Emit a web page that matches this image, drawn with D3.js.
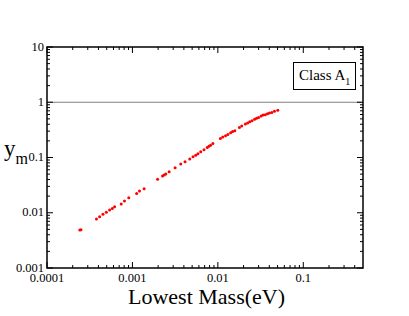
<!DOCTYPE html>
<html><head><meta charset="utf-8">
<script src="https://cdn.jsdelivr.net/npm/d3@7"></script>
<style>body{margin:0;background:#fff}svg{display:block}text{font-family:"Liberation Serif","Times New Roman",serif;fill:#000}</style>
</head><body><svg id="c" width="409" height="316"></svg>
<script>
const lowestMass = [2.42e-4,2.5e-4,3.79e-4,4.13e-4,4.52e-4,4.95e-4,5.41e-4,5.81e-4,6.18e-4,7.39e-4,8.07e-4,9.06e-4,
1.12e-3,1.21e-3,1.37e-3,1.97e-3,2.25e-3,2.35e-3,2.46e-3,2.69e-3,3.16e-3,3.68e-3,4.13e-3,4.69e-3,5.12e-3,5.51e-3,
5.85e-3,6.30e-3,6.88e-3,7.51e-3,7.85e-3,8.22e-3,8.75e-3,1.07e-2,1.14e-2,1.23e-2,1.31e-2,1.41e-2,1.49e-2,1.58e-2,
1.79e-2,1.90e-2,2.10e-2,2.23e-2,2.36e-2,2.51e-2,2.69e-2,2.84e-2,3.00e-2,3.21e-2,3.38e-2,3.59e-2,3.81e-2,4.02e-2,
4.28e-2,4.60e-2,5.03e-2];
const ym = [4.86e-3,4.9e-3,7.69e-3,8.47e-3,9.35e-3,1.02e-2,1.12e-2,1.20e-2,1.28e-2,1.44e-2,1.63e-2,1.87e-2,
2.24e-2,2.47e-2,2.71e-2,4.02e-2,4.62e-2,4.81e-2,5.01e-2,5.51e-2,6.51e-2,7.60e-2,8.36e-2,9.35e-2,0.103,0.110,
0.117,0.127,0.138,0.152,0.159,0.166,0.180,0.221,0.234,0.247,0.262,0.280,0.294,0.304,
0.350,0.370,0.402,0.422,0.443,0.461,0.494,0.515,0.531,0.561,0.585,0.592,0.622,0.636,
0.654,0.690,0.720];
const xTicks = [1e-4,1e-3,1e-2,1e-1];
const xTickLabels = ["0.0001","0.001","0.01","0.1"];
const yTicks = [1e-3,1e-2,1e-1,1,10];
const yTickLabels = ["0.001","0.01","0.1","1","10"];
const xDomain = [1e-4,0.5];
const yDomain = [1e-3,10];
const refLine = 1;

const L=47,R=363,T=47,B=268;
const svg=d3.select("#c");
const x=d3.scaleLog().domain(xDomain).range([L,R]);
const y=d3.scaleLog().domain(yDomain).range([B,T]);

function minors(dom){const out=[];for(let e=Math.floor(Math.log10(dom[0]));e<=Math.ceil(Math.log10(dom[1]));e++){for(let k=2;k<=9;k++){const v=k*Math.pow(10,e);if(v>dom[0]*1.0001&&v<dom[1]*0.9999)out.push(v);}}return out;}
const xMin=minors(xDomain), yMin=minors(yDomain);

// reference line
svg.append("line").attr("x1",L).attr("x2",R).attr("y1",y(refLine)).attr("y2",y(refLine)).attr("stroke","#808080").attr("stroke-width",1);

const g=svg.append("g").attr("stroke","#000").attr("stroke-width",1);
// bottom/top ticks
xTicks.forEach(v=>{g.append("line").attr("x1",x(v)).attr("x2",x(v)).attr("y1",B).attr("y2",B-6);g.append("line").attr("x1",x(v)).attr("x2",x(v)).attr("y1",T).attr("y2",T+6);});
xMin.forEach(v=>{g.append("line").attr("x1",x(v)).attr("x2",x(v)).attr("y1",B).attr("y2",B-3);g.append("line").attr("x1",x(v)).attr("x2",x(v)).attr("y1",T).attr("y2",T+3);});
yTicks.forEach(v=>{g.append("line").attr("y1",y(v)).attr("y2",y(v)).attr("x1",L).attr("x2",L+6);g.append("line").attr("y1",y(v)).attr("y2",y(v)).attr("x1",R).attr("x2",R-6);});
yMin.forEach(v=>{g.append("line").attr("y1",y(v)).attr("y2",y(v)).attr("x1",L).attr("x2",L+3);g.append("line").attr("y1",y(v)).attr("y2",y(v)).attr("x1",R).attr("x2",R-3);});

svg.append("rect").attr("x",L).attr("y",T).attr("width",R-L).attr("height",B-T).attr("fill","none").attr("stroke","#000").attr("stroke-width",1.5);

// labels
xTicks.forEach((v,i)=>svg.append("text").attr("x",x(v)).attr("y",B+14).attr("text-anchor","middle").attr("font-size",12.5).text(xTickLabels[i]));
yTicks.forEach((v,i)=>svg.append("text").attr("x",L-3).attr("y",y(v)+3.5).attr("text-anchor","end").attr("font-size",12.5).text(yTickLabels[i]));

svg.append("text").attr("x",(127+286)/2).attr("y",304).attr("text-anchor","middle").attr("font-size",22).text("Lowest Mass(eV)");
const yl=svg.append("text").attr("x",4).attr("y",156).attr("font-size",23);
yl.append("tspan").text("y");
yl.append("tspan").attr("font-size",16).attr("dy",8).text("m");

// points
svg.append("g").selectAll("circle").data(lowestMass.map((m,i)=>[m,ym[i]])).join("circle")
 .attr("cx",d=>x(d[0])).attr("cy",d=>y(d[1])).attr("r",1.5).attr("fill","#ff0000");

// legend box
svg.append("rect").attr("x",293.5).attr("y",62.5).attr("width",62).attr("height",27).attr("fill","#fff").attr("stroke","#000").attr("stroke-width",1);
const lt=svg.append("text").attr("x",299).attr("y",80).attr("font-size",15);
lt.append("tspan").text("Class A");
lt.append("tspan").attr("font-size",10).attr("dy",5).text("1");
</script></body></html>
